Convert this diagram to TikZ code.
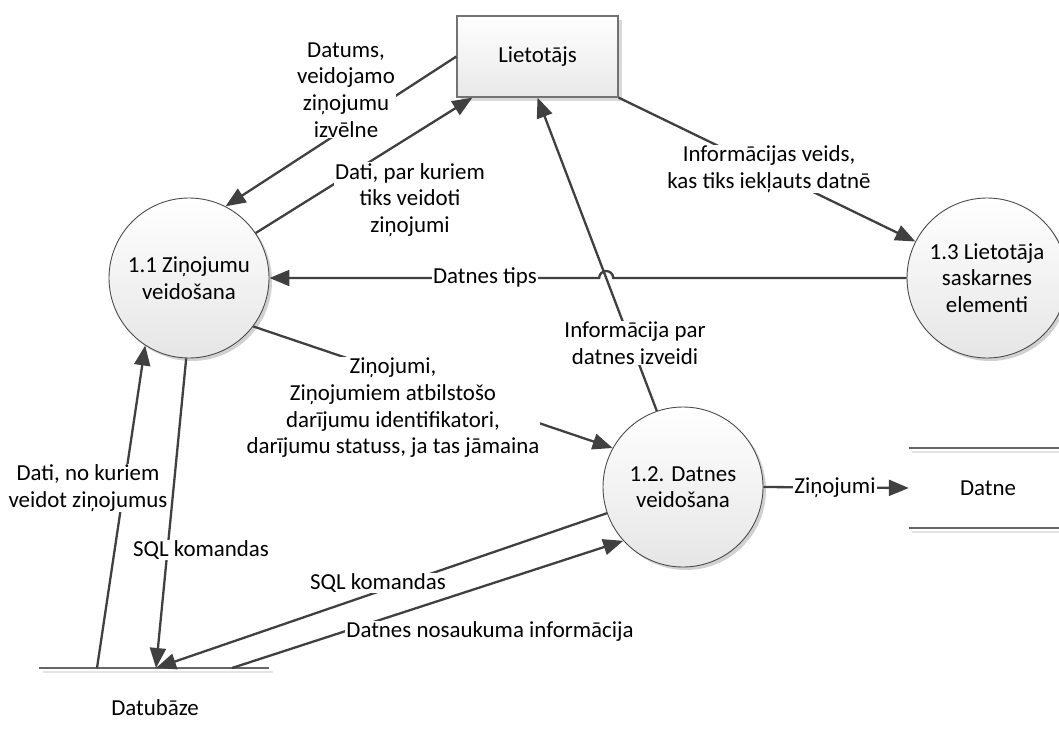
\documentclass[tikz,border=0pt]{standalone}
\usepackage{fontspec}
\setmainfont{Carlito}
\usetikzlibrary{arrows.meta,calc,shadows}

\tikzset{
  process/.style={circle, draw=black!70, line width=0.9pt, top color=white, bottom color=black!10,
    minimum size=160pt, inner sep=0pt, align=center,
    drop shadow={shadow xshift=3pt, shadow yshift=-3pt, fill=black!18, opacity=1}},
  entity/.style={rectangle, draw=black!55, line width=1.3pt, top color=white, bottom color=black!9,
    minimum width=161pt, minimum height=81pt,
    drop shadow={shadow xshift=4pt, shadow yshift=-4pt, fill=black!15, opacity=1}},
  flow/.style={draw=black!75, line width=2.3pt, -{Triangle[length=20pt,width=16pt]}},
  flowlabel/.style={fill=white, align=center, inner sep=1pt},
  storeline/.style={draw=black!60, line width=1.5pt},
  storeshadow/.style={draw=black!10, line width=2pt}
}

\begin{document}
\begin{tikzpicture}[x=1pt, y=1pt, font=\fontsize{22.9}{26.7}\selectfont]
    \useasboundingbox (0,0) rectangle (1059,-744);

    % Processes and user
    \node[entity] (user) at (537.5,-56.5) {Lietotājs};
    \node[process] (c11) at (189,-278) {1.1 Ziņojumu\\veidošana};
    \node[process] (c12) at (683,-487) {1.2. Datnes\\veidošana};
    \node[process] (c13) at (987,-278) {1.3 Lietotāja\\saskarnes\\elementi};

    % Data store: Datne
    \node[minimum width=158pt, minimum height=80pt, inner sep=0pt] (datne) at (988,-488) {Datne};
    \draw[storeshadow] ($(datne.north west)+(3,-4)$) -- ($(datne.north east)+(3,-4)$);
    \draw[storeshadow] ($(datne.south west)+(3,-4)$) -- ($(datne.south east)+(3,-4)$);
    \draw[storeline] (datne.north west) -- (datne.north east);
    \draw[storeline] (datne.south west) -- (datne.south east);

    % Data store: Datubaze
    \coordinate (dbW) at (39,-668);
    \coordinate (dbE) at (269,-668);
    \draw[storeshadow] ($(dbW)+(4,-4)$) -- ($(dbE)+(4,-4)$);
    \draw[storeline] (dbW) -- (dbE);
    \node (db) at (155,-708) {Datubāze};
    \coordinate (dbA) at (97,-668);
    \coordinate (dbB) at (156,-668);
    \coordinate (dbC) at (232,-668);

    % Flows round the user
    \draw[flow] (user.west) -- (c11.63);
    \draw[flow] (c11.34) -- ($(user.south west)+(16,0)$);
    \draw[flow] (user.south east) -- (c13.153);
    \draw[flow] (c12.109) -- (user.south);

    % Datnes tips, with a hop over the line above
    \path (c12.109) coordinate (infoS) (user.south) coordinate (infoE);
    \coordinate (hop) at (intersection of c13.west--c11.east and infoS--infoE);
    \draw[flow] (c13.west) -- ($(hop)+(7,0)$) arc[start angle=0, end angle=180, radius=7] -- (c11.east);

    % Flows between processes and stores
    \draw[flow] (c11.323) -- (c12.151);
    \draw[flow] (dbA) -- (c11.237);
    \draw[flow] (c11.268) -- (dbB);
    \draw[flow] (c12.199) -- (dbB);
    \draw[flow] (dbC) -- (c12.222);
    \draw[flow] (c12.east) -- (datne.west);

    % Labels
    \node[flowlabel] (lDatums) at (346,-90) {Datums,\\veidojamo\\ziņojumu\\izvēlne};
    \node[flowlabel] (lDati) at (410,-200) {Dati, par kuriem\\tiks veidoti\\ziņojumi};
    \node[flowlabel] (lVeids) at (769,-169) {Informācijas veids,\\kas tiks iekļauts datnē};
    \node[flowlabel] (lTips) at (485,-277) {Datnes tips};
    \node[flowlabel] (lIzveide) at (635,-343) {Informācija par\\datnes izveidi};
    \node[flowlabel] (lZin) at (393,-408) {Ziņojumi,\\Ziņojumiem atbilstošo\\darījumu identifikatori,\\darījumu statuss, ja tas jāmaina};
    \node[flowlabel] (lDatiNo) at (88,-488) {Dati, no kuriem\\veidot ziņojumus};
    \node[flowlabel] (lSqlA) at (201,-550) {SQL komandas};
    \node[flowlabel] (lSqlB) at (378,-583) {SQL komandas};
    \node[flowlabel] (lNos) at (490,-632) {Datnes nosaukuma informācija};
    \node[flowlabel] (lZinB) at (835,-488) {Ziņojumi};
\end{tikzpicture}
\end{document}
